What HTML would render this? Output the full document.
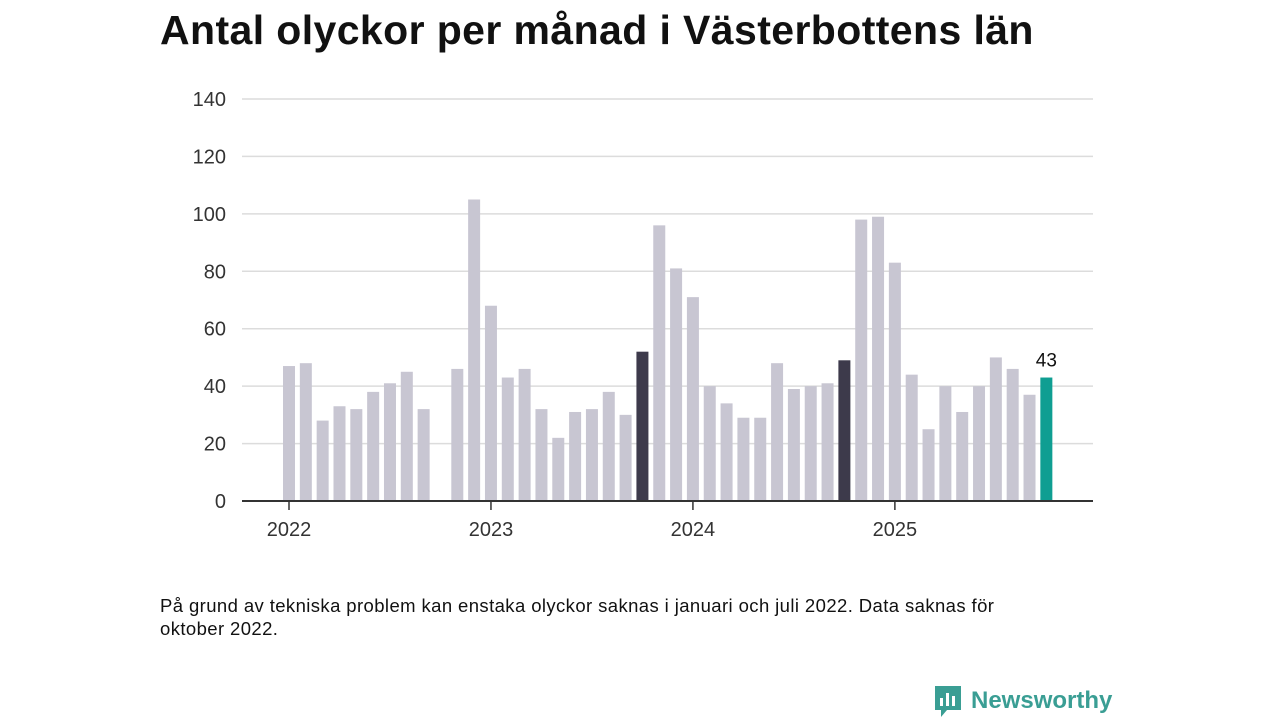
<!DOCTYPE html>
<html><head><meta charset="utf-8">
<style>
body{margin:0;background:#fff;width:1280px;height:720px;overflow:hidden;font-family:"Liberation Sans",sans-serif;}
h1{position:absolute;left:160px;top:7px;margin:0;font-size:41px;font-weight:bold;color:#111;letter-spacing:0.4px}
#note{position:absolute;left:160px;top:594px;width:880px;font-size:18.5px;line-height:23px;color:#111;letter-spacing:0.4px}
#logo{position:absolute;left:933px;top:684px;display:flex;align-items:center;gap:8px;color:#3a9e94;font-weight:bold;font-size:24px}
svg{position:absolute;left:0;top:0}
</style></head><body>
<h1>Antal olyckor per månad i Västerbottens län</h1>
<svg id="chart" width="1280" height="720"></svg>
<div id="note">På grund av tekniska problem kan enstaka olyckor saknas i januari och juli 2022. Data saknas för oktober 2022.</div>
<div id="logo"><svg width="30" height="34" style="position:static"><path d="M2 2h26v24H14l-6 7v-7H2z" fill="#3a9e94"/><rect x="7" y="14" width="3" height="8" fill="#fff"/><rect x="13" y="9" width="3" height="13" fill="#fff"/><rect x="19" y="12" width="3" height="10" fill="#fff"/></svg>Newsworthy</div>
<script>
const values=[47,48,28,33,32,38,41,45,32,null,46,105,68,43,46,32,22,31,32,38,30,52,96,81,71,40,34,29,29,48,39,40,41,49,98,99,83,44,25,40,31,40,50,46,37,43];
const highlight=[21,33];
const yTicks=[0,20,40,60,80,100,120,140];
const years=["2022","2023","2024","2025"];
const svg=document.getElementById('chart');
const NS="http://www.w3.org/2000/svg";
const y=v=>501-v*(402/140);
const x=i=>289+i*16.83;
function mk(t,a){const e=document.createElementNS(NS,t);for(const k in a)e.setAttribute(k,a[k]);svg.appendChild(e);return e;}
yTicks.forEach(t=>{
 if(t>0){const l=mk('line',{x1:242,x2:1093,y1:y(t),y2:y(t),stroke:'#dcdcdc','stroke-width':1.5});
 
 }
 const tx=mk('text',{x:226,y:y(t)+7,'text-anchor':'end','font-size':20,fill:'#333','font-family':'Liberation Sans'});
 tx.textContent=t;
 
 
});
values.forEach((v,i)=>{
 if(v==null)return;
 const last=i===values.length-1;
 const fill=last?'#0f9e92':highlight.includes(i)?'#3d3a4b':'#c8c6d2';
 const r=mk('rect',{x:x(i)-6,y:y(v),width:12,height:501-y(v),fill});
 
 
 if(last){const t=mk('text',{x:x(i),y:y(v)-11,'text-anchor':'middle','font-size':19,fill:'#111','font-family':'Liberation Sans'});t.textContent=v;
 
 }
});
const ax=mk('line',{x1:242,x2:1093,y1:501,y2:501,stroke:'#333','stroke-width':2});


years.forEach((yr,k)=>{
 const xx=x(k*12);
 const tk=mk('line',{x1:xx,x2:xx,y1:501,y2:510,stroke:'#333','stroke-width':1.5});
 
 
 const t=mk('text',{x:xx,y:536,'text-anchor':'middle','font-size':20,fill:'#333','font-family':'Liberation Sans'});
 t.textContent=yr;
 
 
});
</script>
</body></html>
